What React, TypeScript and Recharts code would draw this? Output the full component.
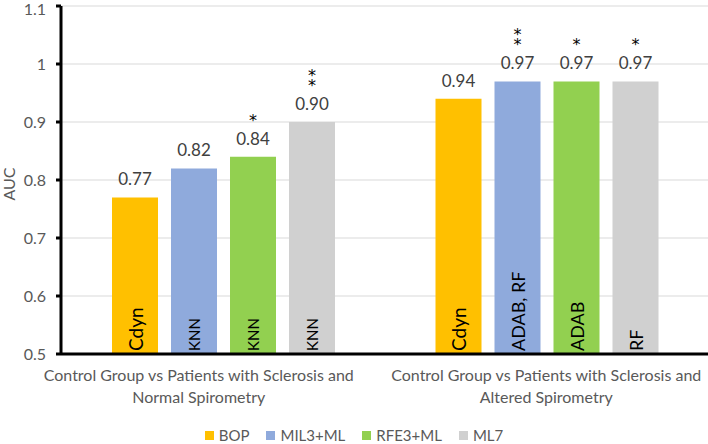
import React from "react";
import { BarChart, Bar, XAxis, YAxis, CartesianGrid, LabelList, Legend, Label } from "recharts";

const categoryLines: string[][] = [
  ["Control Group vs Patients with Sclerosis and", "Normal Spirometry"],
  ["Control Group vs Patients with Sclerosis and", "Altered Spirometry"],
];
const categories = categoryLines.map((l) => l.join(" "));

const seriesNames = ["BOP", "MIL3+ML", "RFE3+ML", "ML7"];
const bop = [0.77, 0.94];
const mil3ml = [0.82, 0.97];
const rfe3ml = [0.84, 0.97];
const ml7 = [0.9, 0.97];

const bopMethods = ["Cdyn", "Cdyn"];
const mil3mlMethods = ["KNN", "ADAB, RF"];
const rfe3mlMethods = ["KNN", "ADAB"];
const ml7Methods = ["KNN", "RF"];

const bopSig = ["", ""];
const mil3mlSig = ["", "**"];
const rfe3mlSig = ["*", "*"];
const ml7Sig = ["**", "*"];

const yTicks = [0.5, 0.6, 0.7, 0.8, 0.9, 1, 1.1];

const colors = ["#FFC000", "#8FAADC", "#92D050", "#D0D0D0"];
const FONT = "Lato, 'Open Sans', sans-serif";

const data = categories.map((c, i) => ({
  category: c,
  BOP: bop[i],
  "MIL3+ML": mil3ml[i],
  "RFE3+ML": rfe3ml[i],
  ML7: ml7[i],
}));

const seriesMeta = [
  { methods: bopMethods, sig: bopSig },
  { methods: mil3mlMethods, sig: mil3mlSig },
  { methods: rfe3mlMethods, sig: rfe3mlSig },
  { methods: ml7Methods, sig: ml7Sig },
];

const makeTopLabel = (sigs: string[]) => (props: any) => {
  const { x, y, width, value, index } = props;
  const cx = Number(x) + Number(width) / 2;
  const top = Number(y);
  const stars = (sigs[index] || "").split("");
  const n = stars.length;
  return (
    <g>
      <text x={cx} y={top - 12} textAnchor="middle" fontSize={17} fill="#404040" fontFamily={FONT}>
        {Number(value).toFixed(2)}
      </text>
      {n > 0 && (
        <text
          x={cx}
          y={top - 31 - (n - 1) * 10}
          textAnchor="middle"
          fontSize={16}
          fill="#000"
          fontFamily="'DejaVu Sans', sans-serif"
        >
          {stars.map((s, k) => (
            <tspan key={k} x={cx} dy={k === 0 ? 0 : 10}>
              {s}
            </tspan>
          ))}
        </text>
      )}
    </g>
  );
};

const makeInsideLabel = (methods: string[], seriesIdx: number) => (props: any) => {
  const { x, y, width, height, index } = props;
  const cx = Number(x) + Number(width) / 2;
  const bottom = Number(y) + Number(height) - 3;
  const fs = seriesIdx === 0 ? 19 : index === 0 ? 15 : 18;
  return (
    <text
      x={cx}
      y={bottom}
      transform={`rotate(-90, ${cx}, ${bottom})`}
      textAnchor="start"
      dominantBaseline="central"
      fontSize={fs}
      fill="#000"
      fontFamily={FONT}
    >
      {methods[index]}
    </text>
  );
};

const CategoryTick = (props: any) => {
  const { x, y, payload } = props;
  const lines = categoryLines[payload.index] || [];
  const tx = Number(x) + (payload.index === 0 ? -24 : 0);
  return (
    <text x={tx} y={y + 19} textAnchor="middle" fontSize={16} fill="#595959" fontFamily={FONT}>
      {lines.map((l, k) => (
        <tspan key={k} x={tx} dy={k === 0 ? 0 : 22}>
          {l}
        </tspan>
      ))}
    </text>
  );
};

const LegendContent = () => (
  <div style={{ display: "flex", justifyContent: "center", fontFamily: FONT, fontSize: 15, color: "#595959" }}>
    {seriesNames.map((n, i) => (
      <div key={n} style={{ display: "flex", alignItems: "center", marginRight: i < seriesNames.length - 1 ? 17 : 0 }}>
        <span style={{ width: 9, height: 9, background: colors[i], display: "inline-block", marginRight: 5 }} />
        <span>{n}</span>
      </div>
    ))}
  </div>
);

export default function App() {
  return (
    <div style={{ position: "absolute", left: 0, top: 0, width: 708, height: 444, background: "#fff" }}>
      <BarChart
        width={708}
        height={444}
        data={data}
        margin={{ top: 6, right: 0, left: 0, bottom: 40 }}
        barCategoryGap={51}
        barGap={13}
      >
        <CartesianGrid vertical={false} stroke="#D9D9D9" strokeWidth={1} />
        <XAxis
          dataKey="category"
          height={50}
          axisLine={{ stroke: "#000", strokeWidth: 3 }}
          tickLine={false}
          tick={<CategoryTick />}
          interval={0}
        />
        <YAxis
          width={61}
          domain={[0.5, 1.1]}
          ticks={yTicks}
          allowDataOverflow
          axisLine={{ stroke: "#000", strokeWidth: 3 }}
          tickLine={{ stroke: "#000", strokeWidth: 3 }}
          tickSize={5}
          tickMargin={10}
          tick={{ fill: "#595959", fontSize: 16, fontFamily: FONT }}
          tickFormatter={(v: number) => String(v)}
        >
          <Label
            content={(p: any) => {
              const vb = p.viewBox || {};
              const cy = (vb.y || 0) + (vb.height || 0) / 2 + 4;
              return (
                <text
                  x={8}
                  y={cy}
                  transform={`rotate(-90, 8, ${cy})`}
                  textAnchor="middle"
                  dominantBaseline="central"
                  fontSize={16}
                  fill="#595959"
                  fontFamily={FONT}
                >
                  AUC
                </text>
              );
            }}
          />
        </YAxis>
        <Legend
          verticalAlign="middle"
          align="center"
          layout="horizontal"
          content={<LegendContent />}
          wrapperStyle={{ position: "absolute", top: 426, left: 0, width: 708 }}
        />
        {seriesNames.map((n, i) => (
          <Bar key={n} dataKey={n} fill={colors[i]} isAnimationActive={false}>
            <LabelList dataKey={n} content={makeTopLabel(seriesMeta[i].sig)} />
            <LabelList dataKey={n} content={makeInsideLabel(seriesMeta[i].methods, i)} />
          </Bar>
        ))}
      </BarChart>
    </div>
  );
}
